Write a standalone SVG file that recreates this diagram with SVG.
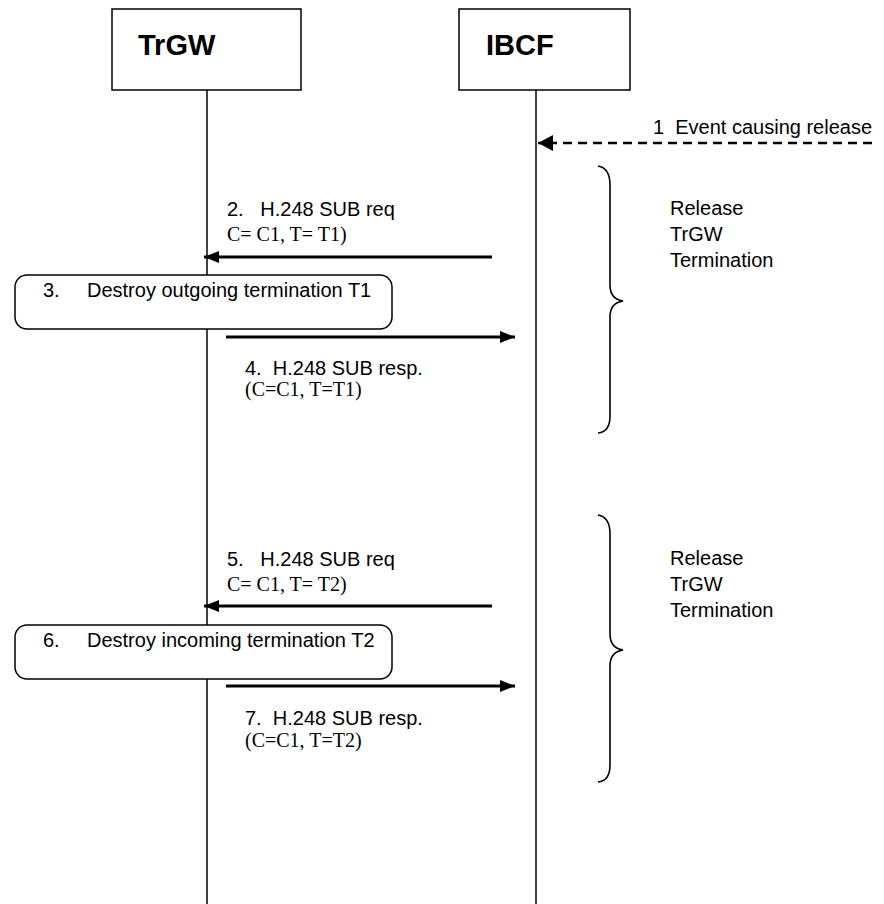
<svg xmlns="http://www.w3.org/2000/svg" width="884" height="904" viewBox="0 0 884 904">
<style>
.box{fill:#fff;stroke:#000;stroke-width:1.5}
.life{stroke:#000;stroke-width:1.5;fill:none}
.title{font-family:"Liberation Sans",Arial,sans-serif;font-weight:bold;font-size:29px;fill:#000}
.lbl{font-family:"Liberation Sans",Arial,sans-serif;font-size:20px;fill:#000}
.tms{font-family:"Liberation Serif","Times New Roman",serif;font-size:20px;fill:#000}
.msg{stroke:#000;stroke-width:3;fill:none}
.dash{stroke:#000;stroke-width:2.5;fill:none;stroke-dasharray:9 6}
.brace{stroke:#000;stroke-width:1.6;fill:none}
</style>
<defs>
<marker id="ah" markerWidth="15" markerHeight="12" refX="15" refY="6" orient="auto" markerUnits="userSpaceOnUse">
<path d="M0,0 L15,6 L0,12 Z" fill="#000"/>
</marker>
<marker id="ahd" markerWidth="15" markerHeight="16" refX="15" refY="8" orient="auto" markerUnits="userSpaceOnUse">
<path d="M0,0 L15,8 L0,16 Z" fill="#000"/>
</marker>
</defs>
<g id="lifelines">
<line class="life" x1="207" y1="90" x2="207" y2="904"/>
<line class="life" x1="536" y1="90" x2="536" y2="904"/>
</g>
<g id="TrGW">
<rect class="box" x="112" y="9" width="189" height="81"/>
<text class="title" x="138" y="55">TrGW</text>
</g>
<g id="IBCF">
<rect class="box" x="459" y="9" width="171" height="81"/>
<text class="title" x="486" y="55">IBCF</text>
</g>
<g id="connectors">
<line class="dash" x1="872" y1="143" x2="538" y2="143" marker-end="url(#ahd)"/>
<line class="msg" x1="492" y1="257" x2="204" y2="257" marker-end="url(#ah)"/>
<line class="msg" x1="226" y1="337" x2="515" y2="337" marker-end="url(#ah)"/>
<line class="msg" x1="492" y1="606" x2="204" y2="606" marker-end="url(#ah)"/>
<line class="msg" x1="226" y1="686" x2="515" y2="686" marker-end="url(#ah)"/>
</g>
<g id="msg1">
<text class="lbl" x="653" y="134" xml:space="preserve">1  Event causing release</text>
</g>
<g id="msg2">
<text class="lbl" x="227" y="216" xml:space="preserve">2.   H.248 SUB req</text>
<text class="tms" x="227" y="241">C= C1, T= T1)</text>
</g>
<g id="step3">
<rect class="box" x="15" y="275" width="377" height="54" rx="12" ry="12"/>
<text class="lbl" x="43" y="297">3.</text>
<text class="lbl" x="87" y="297">Destroy outgoing termination T1</text>
</g>
<g id="msg4">
<text class="lbl" x="245" y="375" xml:space="preserve">4.  H.248 SUB resp.</text>
<text class="tms" x="245" y="396">(C=C1, T=T1)</text>
</g>
<g id="brace1">
<path class="brace" d="M598,166 Q610,168 610,185 L610,285 Q610,299 623,301 Q610,303 610,317 L610,416 Q610,432 598,433"/>
<text class="lbl" x="670" y="215">Release</text>
<text class="lbl" x="670" y="241">TrGW</text>
<text class="lbl" x="670" y="267">Termination</text>
</g>
<g id="msg5">
<text class="lbl" x="227" y="566" xml:space="preserve">5.   H.248 SUB req</text>
<text class="tms" x="227" y="591">C= C1, T= T2)</text>
</g>
<g id="step6">
<rect class="box" x="15" y="625" width="377" height="54" rx="12" ry="12"/>
<text class="lbl" x="43" y="647">6.</text>
<text class="lbl" x="87" y="647">Destroy incoming termination T2</text>
</g>
<g id="msg7">
<text class="lbl" x="245" y="725" xml:space="preserve">7.  H.248 SUB resp.</text>
<text class="tms" x="245" y="747">(C=C1, T=T2)</text>
</g>
<g id="brace2">
<path class="brace" d="M598,515 Q610,517 610,534 L610,634 Q610,648 623,650 Q610,652 610,666 L610,765 Q610,781 598,782"/>
<text class="lbl" x="670" y="565">Release</text>
<text class="lbl" x="670" y="591">TrGW</text>
<text class="lbl" x="670" y="617">Termination</text>
</g>
</svg>
